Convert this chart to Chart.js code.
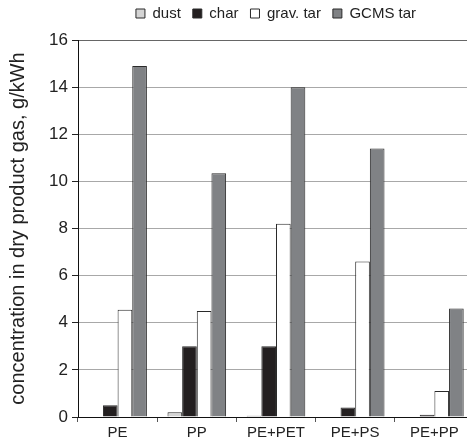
<!DOCTYPE html>
<html><head><meta charset="utf-8">
<script src="https://cdn.jsdelivr.net/npm/chart.js@4"></script>
<style>html,body{margin:0;padding:0;overflow:hidden;background:#fff}#w{width:475px;height:443px}</style>
</head><body><div id="w"><canvas id="c"></canvas></div>
<script>
const categories = ["PE", "PP", "PE+PET", "PE+PS", "PE+PP"];
const dust = [0, 0.2, 0.05, 0, 0];
const charV = [0.5, 3.0, 3.0, 0.4, 0.1];
const gravTar = [4.55, 4.5, 8.2, 6.6, 1.1];
const gcmsTar = [14.9, 10.35, 14.0, 11.4, 4.6];
const yTicks = [0, 2, 4, 6, 8, 10, 12, 14, 16];

const F = "'Liberation Sans', Arial, sans-serif";
const mk = (label, data, bg) => ({label, data, backgroundColor: bg, borderColor: '#2a2a2a', borderWidth: 1, barPercentage: 1, categoryPercentage: 0.74});
const legendHeight = {
  id: 'legendHeight',
  afterInit(chart) {
    const lg = chart.legend;
    const orig = lg.fit.bind(lg);
    lg.fit = function () { orig(); this.height = 40; };
  },
  afterLayout(chart) {
    const lg = chart.legend;
    lg.top = -6; lg.bottom = lg.top + lg.height;
  }
};
new Chart(document.getElementById('c'), {
  type: 'bar',
  data: {labels: categories, datasets: [
    mk('dust', dust, '#d4d4d4'),
    mk('char', charV, '#231f20'),
    mk('grav. tar', gravTar, '#ffffff'),
    mk('GCMS tar', gcmsTar, '#808285')
  ]},
  plugins: [legendHeight],
  options: {
    responsive: true, maintainAspectRatio: false, animation: false,
    layout: {padding: {left: 0, right: 1, top: 0, bottom: 0}},
    plugins: {
      legend: {position: 'top', fullSize: false, labels: {boxWidth: 9, boxHeight: 9, padding: 12, color: '#222', font: {family: F, size: 15}}},
      tooltip: {enabled: false}
    },
    scales: {
      x: {
        grid: {offset: true, drawOnChartArea: false, tickLength: 5, tickColor: '#555'},
        border: {color: '#111', width: 1},
        ticks: {color: '#222', font: {family: F, size: 15}, padding: 2, maxRotation: 0},
        afterFit: s => { s.height = 26; }
      },
      y: {
        min: 0, max: 16,
        afterBuildTicks: s => { s.ticks = yTicks.map(v => ({value: v})); },
        grid: {color: c => c.tick && c.tick.value === 16 ? '#666' : '#a8a8a8', tickLength: 6, tickColor: '#222'},
        border: {color: '#111', width: 1},
        ticks: {color: '#222', font: {family: F, size: 17}, padding: 4},
        title: {display: true, text: 'concentration in dry product gas, g/kWh', color: '#222', font: {family: F, size: 20}, padding: {top: 6, bottom: 0}},
        afterFit: s => { s.width = 78; }
      }
    }
  }
});
</script></body></html>
